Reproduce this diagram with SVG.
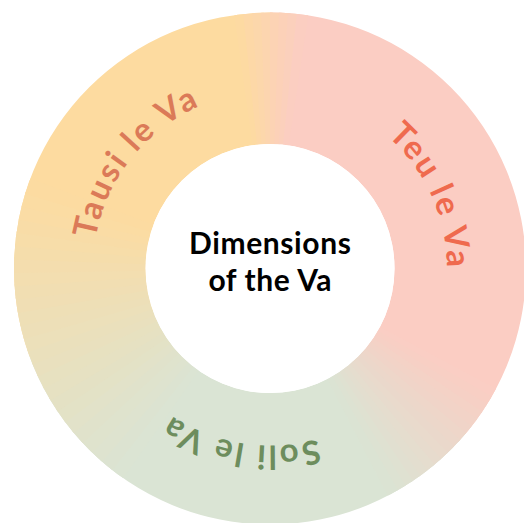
<svg xmlns="http://www.w3.org/2000/svg" xmlns:xlink="http://www.w3.org/1999/xlink" width="524" height="523" viewBox="0 0 524 523">
<style>
.lbl{font-family:Lato,"Liberation Sans",sans-serif;font-weight:700;font-size:33px;letter-spacing:2.3px}
.ctr{font-family:Lato,"Liberation Sans",sans-serif;font-weight:700;font-size:30px;letter-spacing:0.6px;fill:#000;text-anchor:middle}
</style>
<defs>
<clipPath id="ringClip"><path clip-rule="evenodd" d="M14 268.5a256 256 0 1 0 512 0a256 256 0 1 0 -512 0Z M145.5 268.5a124.5 124.5 0 1 0 249 0a124.5 124.5 0 1 0 -249 0Z"/></clipPath>
<path id="s2" d="M270 268.5L270 -31.5L283.6 -31.2Z"/>
<path id="s3" d="M270 268.5L270 -31.5L288.8 -30.9Z"/>
<path id="tp" d="M93 268.5A177 177 0 1 1 447 268.5A177 177 0 1 1 93 268.5"/>
</defs>
<rect width="524" height="523" fill="#fff"/>
<g id="ring" clip-path="url(#ringClip)">
<path fill="#FBCDC3" d="M270 268.5L270 -31.5A300 300 0 0 1 499.8 461.3Z"/>
<path fill="#DAE4D4" d="M270 268.5L499.8 461.3A300 300 0 0 1 -11.9 371.1Z"/>
<path fill="#FDDBA0" d="M270 268.5L-11.9 371.1A300 300 0 0 1 270 -31.5Z"/>
<g id="blend-top">
<use href="#s2" transform="rotate(352 270 268.5)" fill="#FDDAA2"/>
<use href="#s2" transform="rotate(354 270 268.5)" fill="#FDD8A7"/>
<use href="#s2" transform="rotate(356 270 268.5)" fill="#FCD7AB"/>
<use href="#s2" transform="rotate(358 270 268.5)" fill="#FCD5AF"/>
<use href="#s2" transform="rotate(0 270 268.5)" fill="#FCD3B4"/>
<use href="#s2" transform="rotate(2 270 268.5)" fill="#FCD1B8"/>
<use href="#s2" transform="rotate(4 270 268.5)" fill="#FBD0BC"/>
<use href="#s2" transform="rotate(6 270 268.5)" fill="#FBCEC1"/>
</g>
<g id="blend-right">
<use href="#s2" transform="rotate(118 270 268.5)" fill="#FACEC4"/>
<use href="#s2" transform="rotate(120 270 268.5)" fill="#F8CFC4"/>
<use href="#s2" transform="rotate(122 270 268.5)" fill="#F6D0C5"/>
<use href="#s2" transform="rotate(124 270 268.5)" fill="#F4D2C6"/>
<use href="#s2" transform="rotate(126 270 268.5)" fill="#F2D3C7"/>
<use href="#s2" transform="rotate(128 270 268.5)" fill="#F0D4C8"/>
<use href="#s2" transform="rotate(130 270 268.5)" fill="#EED6C9"/>
<use href="#s2" transform="rotate(132 270 268.5)" fill="#ECD7CA"/>
<use href="#s2" transform="rotate(134 270 268.5)" fill="#EAD8CB"/>
<use href="#s2" transform="rotate(136 270 268.5)" fill="#E9DACC"/>
<use href="#s2" transform="rotate(138 270 268.5)" fill="#E7DBCD"/>
<use href="#s2" transform="rotate(140 270 268.5)" fill="#E5DDCE"/>
<use href="#s2" transform="rotate(142 270 268.5)" fill="#E3DECF"/>
<use href="#s2" transform="rotate(144 270 268.5)" fill="#E1DFD0"/>
<use href="#s2" transform="rotate(146 270 268.5)" fill="#DFE1D1"/>
<use href="#s2" transform="rotate(148 270 268.5)" fill="#DDE2D2"/>
<use href="#s2" transform="rotate(150 270 268.5)" fill="#DBE3D3"/>
</g>
<g id="blend-left">
<use href="#s3" transform="rotate(215 270 268.5)" fill="#DBE4D3"/>
<use href="#s3" transform="rotate(218 270 268.5)" fill="#DCE3D1"/>
<use href="#s3" transform="rotate(221 270 268.5)" fill="#DEE3CF"/>
<use href="#s3" transform="rotate(224 270 268.5)" fill="#DFE3CD"/>
<use href="#s3" transform="rotate(227 270 268.5)" fill="#E0E2CB"/>
<use href="#s3" transform="rotate(230 270 268.5)" fill="#E2E2C9"/>
<use href="#s3" transform="rotate(233 270 268.5)" fill="#E3E2C6"/>
<use href="#s3" transform="rotate(236 270 268.5)" fill="#E4E1C4"/>
<use href="#s3" transform="rotate(239 270 268.5)" fill="#E6E1C2"/>
<use href="#s3" transform="rotate(242 270 268.5)" fill="#E7E1C0"/>
<use href="#s3" transform="rotate(245 270 268.5)" fill="#E9E0BE"/>
<use href="#s3" transform="rotate(248 270 268.5)" fill="#EAE0BC"/>
<use href="#s3" transform="rotate(251 270 268.5)" fill="#ECE0BA"/>
<use href="#s3" transform="rotate(254 270 268.5)" fill="#EDDFB8"/>
<use href="#s3" transform="rotate(257 270 268.5)" fill="#EEDFB6"/>
<use href="#s3" transform="rotate(260 270 268.5)" fill="#F0DEB4"/>
<use href="#s3" transform="rotate(263 270 268.5)" fill="#F1DEB2"/>
<use href="#s3" transform="rotate(266 270 268.5)" fill="#F3DEB0"/>
<use href="#s3" transform="rotate(269 270 268.5)" fill="#F4DDAE"/>
<use href="#s3" transform="rotate(272 270 268.5)" fill="#F5DDAB"/>
<use href="#s3" transform="rotate(275 270 268.5)" fill="#F7DDA9"/>
<use href="#s3" transform="rotate(278 270 268.5)" fill="#F8DCA7"/>
<use href="#s3" transform="rotate(281 270 268.5)" fill="#FADCA5"/>
<use href="#s3" transform="rotate(284 270 268.5)" fill="#FBDCA3"/>
<use href="#s3" transform="rotate(287 270 268.5)" fill="#FCDBA1"/>
</g>
</g>
<g id="label-tausi"><text class="lbl" fill="#DB7A58"><textPath href="#tp" startOffset="118.5" text-anchor="middle">Tausi le Va</textPath></text></g>
<g id="label-teu"><text class="lbl" fill="#EF6A4E"><textPath href="#tp" startOffset="481.5" text-anchor="middle">Teu le Va</textPath></text></g>
<g id="label-soli"><text class="lbl" fill="#6D8D5D"><textPath href="#tp" startOffset="862.7" text-anchor="middle">Soli le Va</textPath></text></g>
<g id="center">
<circle cx="270" cy="268.5" r="124.5" fill="#fff"/>
<text class="ctr" x="270.3" y="253.5">Dimensions</text>
<text class="ctr" x="270.3" y="291">of the Va</text>
</g>
<g id="connectors"/>
</svg>
